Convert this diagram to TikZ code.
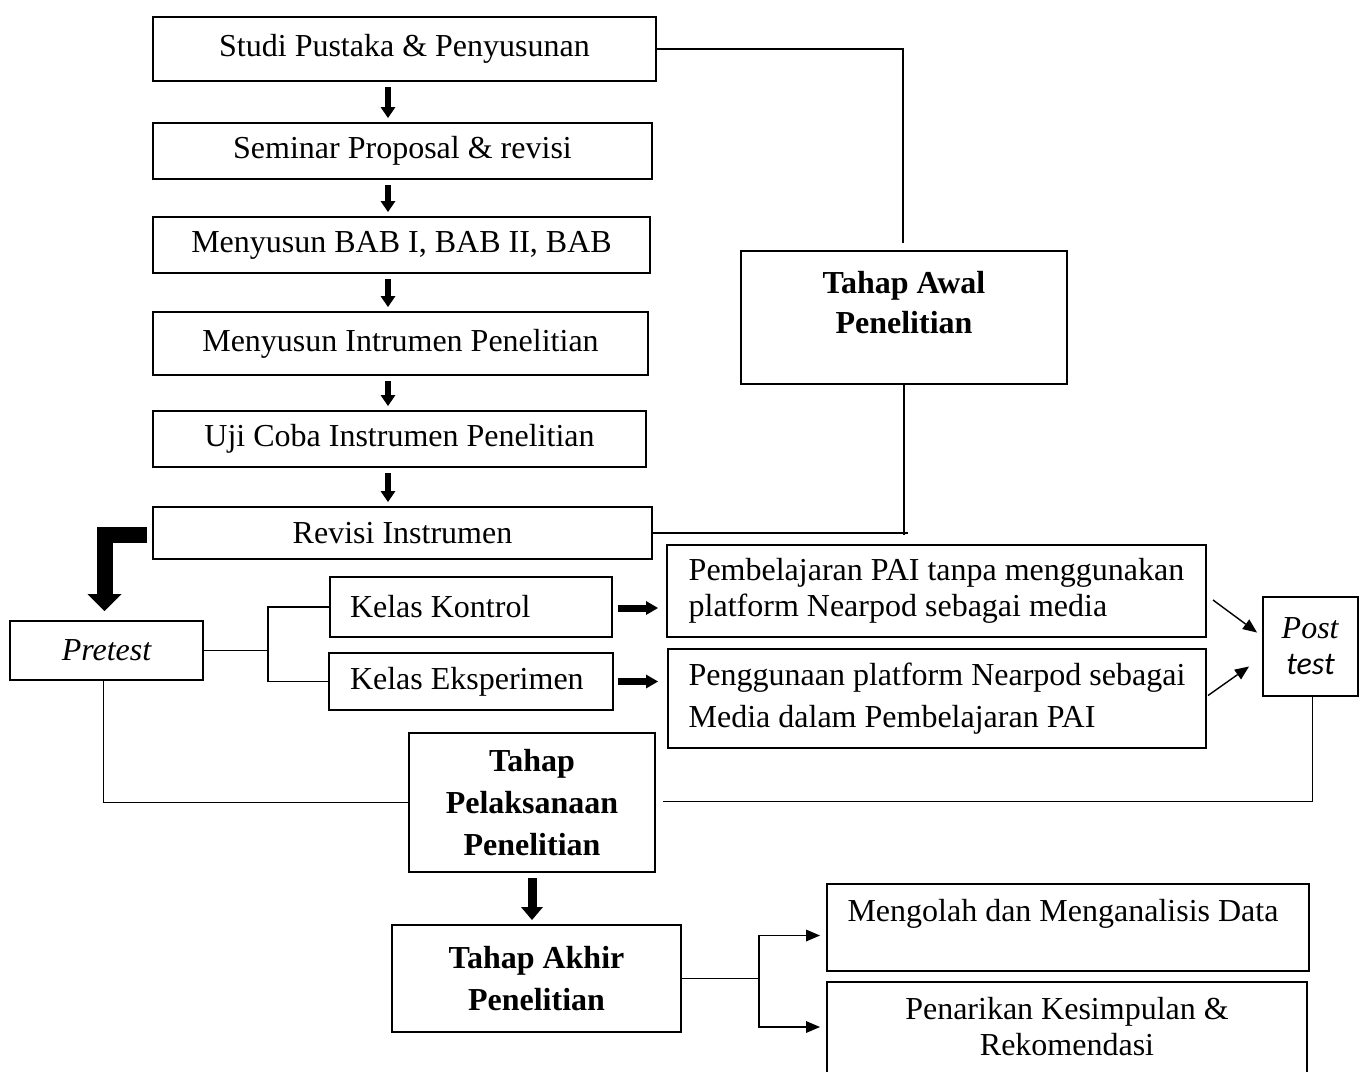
\documentclass[tikz,border=0pt]{standalone}
\usepackage{fontspec}
\setmainfont{Liberation Serif}
\newfontfamily\calibri{Carlito}
\usetikzlibrary{arrows.meta,calc}

\tikzset{
  box/.style={draw, line width=1pt, inner sep=0pt, outer sep=0pt, align=center, font=\fontsize{16}{18}\selectfont},
  boldbox/.style={box, font=\fontsize{16}{21}\selectfont\bfseries},
  wh/.style args={#1x#2}{minimum width=#1*0.5pt, minimum height=#2*0.5pt},
  txt/.style={inner sep=0pt, align=center, font=\fontsize{16}{18}\selectfont},
  conn/.style={line width=0.7pt},
  dnarrow/.style={line width=2.8pt, -{Triangle[width=7.5pt,length=5.5pt,line width=0pt]}},
  sidearrow/.style={line width=3.5pt, -{Triangle[width=7pt,length=6pt,line width=0pt]}},
  midarrow/.style={line width=4.5pt, -{Triangle[width=11pt,length=6.5pt,line width=0pt]}},
  bigarrow/.style={line width=8pt, line join=miter, -{Triangle[width=17pt,length=8.5pt,line width=0pt]}},
  thinarrow/.style={conn, -{Triangle[width=6pt,length=7pt,line width=0pt]}}
}
\newcommand{\leftlines}[1]{\begin{tabular}{@{}l@{}}#1\end{tabular}}

\begin{document}
\begin{tikzpicture}[x=0.5pt,y=0.5pt,yscale=-1]
\useasboundingbox (0,0) rectangle (1360,1071);
\clip (0,0) rectangle (1360,1071);
\fill[white] (0,0) rectangle (1360,1071);
% tahap awal
\node[box, wh=503x64] (studi) at (404.5,49) {Studi Pustaka \& Penyusunan};
\node[box, wh=499x56] (seminar) at (402.5,151) {Seminar Proposal \& revisi};
\node[box, wh=497x56] (bab) at (401.5,245) {Menyusun BAB I, BAB II, BAB};
\node[box, wh=495x63] (instr) at (400.5,343.5) {Menyusun Intrumen Penelitian};
\node[box, wh=493x56] (uji) at (399.5,439) {Uji Coba Instrumen Penelitian};
\node[box, wh=499x52] (revisi) at (402.5,533) {Revisi Instrumen};
\node[box, wh=326x133] (awal) at (904,317.5) {};
\node[txt, font=\fontsize{16}{20}\selectfont\bfseries] (awaltxt) at (904,303) {Tahap Awal\\Penelitian};
% tahap pelaksanaan
\node[box, font=\fontsize{16}{18}\selectfont\itshape, wh=193x59] (pretest) at (106.5,650.5) {Pretest};
\node[box, wh=282x60] (kontrol) at (471,607) {\makebox[121pt][l]{Kelas Kontrol}};
\node[box, wh=284x57] (eksp) at (471,681.5) {\makebox[121pt][l]{Kelas Eksperimen}};
\node[box, wh=539x92] (pb1) at (936.5,591) {\leftlines{Pembelajaran PAI tanpa menggunakan\\platform Nearpod sebagai media}};
\node[box, wh=538x99, font=\fontsize{16}{21}\selectfont] (pb2) at (937,698.5) {\leftlines{Penggunaan platform Nearpod sebagai\\Media dalam Pembelajaran PAI}};
\node[box, wh=95x99] (post) at (1310.5,646.5) {\textit{Post}\\{\calibri\itshape test}};
\node[boldbox, wh=246x139] (pelaks) at (532,802.5) {Tahap\\Pelaksanaan\\Penelitian};
% tahap akhir
\node[boldbox, wh=289x107] (akhir) at (536.5,978.5) {Tahap Akhir\\Penelitian};
\node[box, wh=482x87] (olah) at (1068,927.5) {};
\node[txt] (olahtxt) at (1063,914) {Mengolah dan Menganalisis Data};
\node[box, wh=480x128] (tarik) at (1067,1046) {};
\node[txt] (tariktxt) at (1067,1027) {Penarikan Kesimpulan \&\\Rekomendasi};

% arrows between the first steps
\coordinate (ax) at (388,0);
\foreach \a/\b in {studi/seminar,seminar/bab,bab/instr,instr/uji,uji/revisi}
  \draw[dnarrow] ($(ax |- \a.south)+(0,6)$) -- ($(ax |- \b.north)+(0,-5)$);
\draw[conn] (studi.east) -| ($(awal.north)+(-1,-8)$);
\draw[conn] (revisi.east) -- ($(revisi.east -| awal.south)+(4,0)$);
\draw[conn] (awal.south) -- ($(revisi.east -| awal.south)+(0,2)$);
\draw[bigarrow] ($(revisi.west)+(-6,2)$) -| ($(pretest.north)+(-2,-10)$);

% pretest to the two classes
\draw[conn] (pretest.east) -- ++(65,0) coordinate (split);
\draw[conn] (kontrol.west) -| (split) |- (eksp.west);
\draw[sidearrow] ($(kontrol.east)+(6,1)$) -- ($(kontrol.east -| pb1.west)+(-9,1)$);
\draw[sidearrow] ($(eksp.east)+(5,0)$) -- ($(eksp.east -| pb2.west)+(-10,0)$);
\draw[thinarrow] ($(pb1.east)+(7,9)$) -- ($(post.west)+(-6,-14)$);
\draw[thinarrow] ($(pb2.east)+(2,-3)$) -- ($(post.west)+(-14,20)$);
\draw[conn] ($(pretest.south)+(-3,0)$) |- (pelaks.west);
\draw[conn] ($(post.south)+(2,0)$) |- ($(pelaks.east)+(8,-1)$);

% last stage
\draw[midarrow] ($(pelaks.south)+(0,6)$) -- ($(pelaks.south |- akhir.north)+(0,-5)$);
\draw[conn] (akhir.east) -- ++(78,0) coordinate (fork);
\draw[thinarrow] (fork) |- ($(olah.west)+(-7,8)$);
\draw[thinarrow] (fork) |- ($(tarik.north west)+(-7,45)$);
\end{tikzpicture}
\end{document}
